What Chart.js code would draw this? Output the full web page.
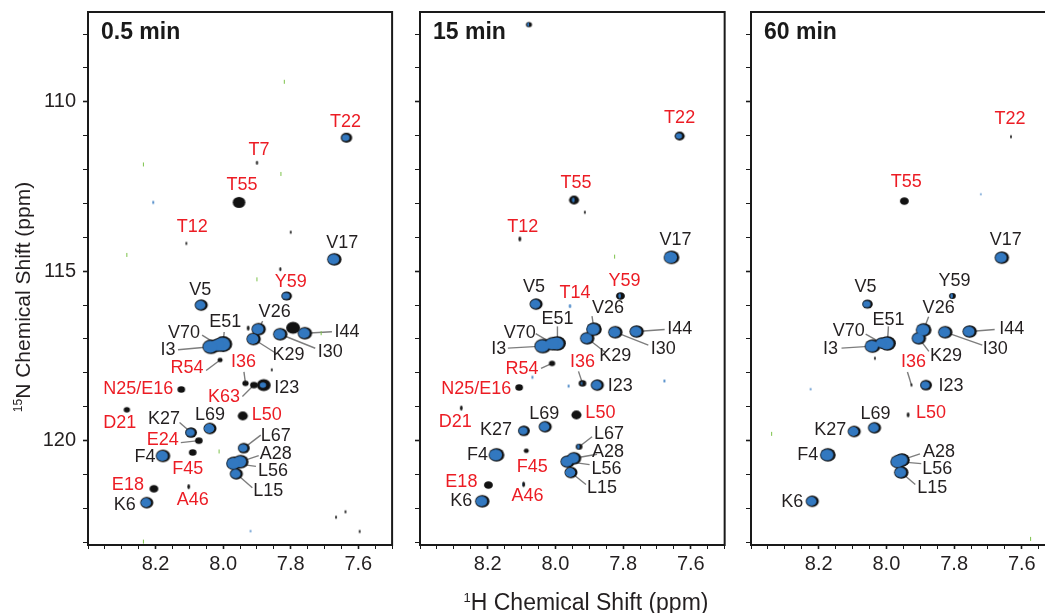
<!DOCTYPE html>
<html>
<head>
<meta charset="utf-8">
<script src="https://cdn.jsdelivr.net/npm/chart.js@4.4.1/dist/chart.umd.min.js"></script>
<style>
  html, body { margin: 0; padding: 0; background: #fff; width: 1045px; height: 613px; overflow: hidden; position: relative; }
  canvas { position: absolute; top: 0; }
</style>
</head>
<body>
<canvas id="p1" width="400" height="613" style="left:0px"></canvas>
<canvas id="p2" width="400" height="613" style="left:332px"></canvas>
<canvas id="p3" width="400" height="613" style="left:663px"></canvas>
<script>
// ---- data (1H / 15N shifts in ppm, peak intensities in arbitrary units) ----
const panelTitles = ['0.5 min', '15 min', '60 min'];
const xMajor = [8.2, 8.0, 7.8, 7.6];
const yMajor = [110, 115, 120];

// 0.5 min
const min05Names = ['T22','T7','T55','T12','V17','Y59','V5','V26','E51','V70','I3','K29','I44','I30','','',
  'R54','I36','K63','I23','N25/E16','D21','L50','L69','K27','E24','F4','F45','L67','A28','L56','L15','E18','K6','A46',
  '','','','','','','',''];
const min05H = [7.635,7.900,7.953,8.109,7.671,7.812,8.065,7.895,8.000,8.015,8.036,7.910,7.758,7.831,7.793,7.926,
  8.009,7.934,7.909,7.880,8.124,8.285,7.942,8.039,8.095,8.072,8.178,8.090,7.939,7.948,7.968,7.961,8.205,8.226,8.102,
  7.800,7.831,7.856,7.666,7.638,7.596,8.207,7.919];
const min05N = [111.06,111.80,112.97,114.18,114.65,115.73,116.00,116.71,117.15,117.18,117.23,117.00,116.83,116.86,116.67,116.68,
  117.62,118.31,118.36,118.36,118.49,119.09,119.27,119.64,119.76,120.00,120.45,120.35,120.22,120.62,120.67,120.98,121.42,121.83,121.36,
  113.85,114.94,117.91,122.26,122.10,122.68,112.97,122.67];
const min05Black = [4.5,1.2,5,1,5,4,4,5,6,5,5.5,5,4,4,5.5,1.5,
  2,2.5,3,5.5,3,2.5,4,4,4.5,3,4.5,3,4,5,5,4.5,3.5,4.5,1.5,
  1,1.2,1,1,1,1,0,0];
const min05Blue = [3,0,0,0,4.5,3,4,4.5,6,5,5.5,4.5,4.5,4.5,0,0,
  0,0,0,2.5,0,0,0,4,3.5,0,4.5,0,3.5,5,5,4,0,4,0,
  0,0,0,0,0,0,1,0.8];
const min05GreenH = [8.236,7.819,7.829,7.900,8.285,8.012,7.710,8.236];
const min05GreenN = [111.85,109.41,112.13,115.24,114.52,120.32,116.83,122.98];

// 15 min
const min15Names = ['','T22','T55','','T12','V17','V5','T14','Y59','V26','E51','V70','I3','K29','I44','I30',
  'R54','I36','I23','N25/E16','D21','L50','L69','K27','F4','F45','L67','A28','L56','L15','E18','K6','A46','','',''];
const min15H = [8.078,7.633,7.945,7.913,8.105,7.657,8.057,7.957,7.808,7.886,7.994,8.008,8.037,7.906,7.760,7.823,
  8.010,7.920,7.876,8.107,8.278,7.938,8.030,8.093,8.174,8.086,7.930,7.945,7.964,7.954,8.198,8.216,8.094,8.068,7.961,7.678];
const min15N = [107.72,111.01,112.90,113.26,114.05,114.59,115.97,116.03,115.73,116.71,117.13,117.14,117.21,116.98,116.78,116.80,
  117.72,118.31,118.36,118.43,119.04,119.24,119.59,119.71,120.42,120.30,120.18,120.52,120.62,120.94,121.31,121.79,121.29,118.13,118.39,118.24];
const min15Black = [1.5,4,4,1,1.5,5,4,0,3.5,5,5.5,5,5.5,5,4.5,5,
  2.5,3,5,3,1.5,4,4,4,5,2,1.5,5,4.5,4.5,3.5,4.5,1.5,0,0,0];
const min15Blue = [1.2,2.5,1.5,0,0,5,4,1.2,1.5,5,5.5,5,5.5,4.5,4.5,4.5,
  0,1,4,0,0,0,4,3.5,5,0,1.5,4.5,4.5,4,0,4.5,0.5,1,1,1];
const min15GreenH = [7.825];
const min15GreenN = [114.57];

// 60 min
const min60Names = ['T22','T55','','V17','V5','Y59','V26','E51','V70','I3','K29','I44','I30','I36','I23','L50',
  'L69','K27','F4','A28','L56','L15','K6','',''];
const min60H = [7.632,7.947,7.721,7.659,8.056,7.805,7.890,7.997,8.014,8.041,7.904,7.754,7.826,7.926,7.883,7.936,
  8.035,8.095,8.173,7.954,7.965,7.956,8.219,8.034,8.224];
const min60N = [111.03,112.93,112.73,114.60,115.97,115.73,116.73,117.13,117.12,117.21,116.98,116.78,116.80,118.36,118.36,119.24,
  119.62,119.73,120.42,120.57,120.62,120.94,121.79,117.57,118.48];
const min60Black = [1,3.5,0,4.5,3,2.5,5,5.5,4,5,4.5,4.5,4,1,4.5,1.5,
  3.5,4,5,5.5,5,4.5,4,1,0];
const min60Blue = [0,0,0.7,4.5,3,1.5,5,5.5,4,5,4.5,4.5,4.5,0,3.5,0,
  4,4,5,5,5,4.5,4,0,0.8];
const min60GreenH = [8.339,7.574];
const min60GreenN = [119.80,122.90];

// residues whose labels are red (lost signal)
const min05Red = ['T22','T7','T55','T12','Y59','R54','I36','K63','N25/E16','D21','L50','E24','F45','E18','A46'];
const min15Red = ['T22','T55','T12','T14','Y59','R54','I36','N25/E16','D21','L50','F45','E18','A46'];
const min60Red = ['T22','T55','I36','L50'];

// ---- label layout: [dx, dy] of label centre from its peak (px), optional leader start [lx, ly] ----
const min05Layout = {
  T22:[-1,-16], T7:[2,-13], T55:[3,-17], T12:[6,-16], V17:[8,-16], Y59:[4,-14], V5:[-1,-15],
  V26:[16,-17,4,-8], E51:[2,-22,1,-12], V70:[-34,-12,-16,-10], I3:[-43,3,-33,3], K29:[35,16,22,14],
  I44:[42,-1,27,-1.5], I30:[50,18,35,14], R54:[-33,8,-14,10.5], I36:[-2,-21,-1.5,-11.5], K63:[-30,12,-11.5,11.5],
  I23:[23,3], 'N25/E16':[-43,0], D21:[-7,13], L50:[24,-1], L69:[0,-13], K27:[-27,-13,-11.5,-10],
  E24:[-36,-1,-18,2], F4:[-18,1], F45:[-5,17], L67:[32,-12,17,-13], A28:[35,-8,18,-6], L56:[39,8,22,3],
  L15:[32,17,16,14], E18:[-26,-4], K6:[-22,2], A46:[4,13]
};
const min15Layout = {
  T22:[0,-18], T55:[2,-17], T12:[3,-12], V17:[4,-17], V5:[-2,-17], T14:[5,-13], Y59:[4,-15],
  V26:[14,-21,-2,-13], E51:[0,-24,0,-17], V70:[-33,-11,-17,-10], I3:[-44,3,-35,2], K29:[28,18,18,14],
  I44:[43,-2,28,-2], I30:[48,17,33,13], R54:[-30,6,-11,5], I36:[0,-21,-4,-12], I23:[23,1],
  'N25/E16':[-43,2], D21:[-6,14], L50:[24,-2], L69:[-1,-13], K27:[-28,-1], F4:[-19,0], F45:[6,16],
  L67:[30,-13,13,-10], A28:[34,-6,23,-4], L56:[39,7,22,3], L15:[31,16,15,12], E18:[-27,-3], K6:[-21,0], A46:[4,12]
};
const min60Layout = {
  T22:[-1,-18], T55:[2,-19], V17:[4,-18], V5:[-2,-17], Y59:[2,-15],
  V26:[15,-22,5,-13], E51:[1,-23,1,-17], V70:[-33,-12,-16,-9], I3:[-42,3,-31,2], K29:[27,18,10,13],
  I44:[42,-2,25,-2], I30:[50,17,37,13], I36:[2,-23,-4,-13], I23:[25,1], L50:[23,-2], L69:[1,-14],
  K27:[-24,-1], F4:[-20,0], A28:[37,-8,18,-6], L56:[39,7,23,2], L15:[31,16,14,12], K6:[-20,1]
};

// ---- styles ----
const FONT = "'Liberation Sans', Arial, Helvetica, sans-serif";
const INK = '#231f20';
const RED = '#ec1c24';
const BLUE = '#3278c0';
const PEAK = '#121212';
const GREEN = '#7cc24a';
const LEAD = '#7d7d7d';

const xTicks = [];
for (let v = 750; v <= 840; v += 5) xTicks.push(v / 100);
const yTicks = [];
for (let v = 108; v <= 123; v++) yTicks.push(v);

const near = (list, v) => list.some(m => Math.abs(m - v) < 1e-6);

// contour blob drawn as a small ellipse image used as point style
const blobCache = {};
function blob(r, color, dx) {
  const key = r.toFixed(2) + color + dx;
  if (blobCache[key]) return blobCache[key];
  const small = r < 2;
  const rx = small ? r * 0.8 : r * 1.15;
  const ry = small ? r * 1.5 : r;
  const w = Math.ceil(2 * (rx + Math.abs(dx)) + 2);
  const h = Math.ceil(2 * ry + 2);
  const cv = document.createElement('canvas');
  cv.width = w; cv.height = h;
  const g = cv.getContext('2d');
  g.fillStyle = color;
  g.beginPath();
  g.ellipse(w / 2 + dx, h / 2, rx, ry, 0, 0, 2 * Math.PI);
  g.fill();
  blobCache[key] = cv;
  return cv;
}

function drawSupText(ctx, sup, main, cx, cy, size) {
  const supSize = Math.round(size * 0.58);
  ctx.font = `${supSize}px ${FONT}`;
  const w1 = ctx.measureText(sup).width;
  ctx.font = `${size}px ${FONT}`;
  const w2 = ctx.measureText(main).width;
  const start = cx - (w1 + w2) / 2;
  ctx.textAlign = 'left';
  ctx.textBaseline = 'alphabetic';
  ctx.fillText(main, start + w1, cy + size * 0.36);
  ctx.font = `${supSize}px ${FONT}`;
  ctx.fillText(sup, start, cy + size * 0.36 - size * 0.38);
}

const panelDecor = {
  id: 'panelDecor',
  beforeDatasetsDraw(chart, args, o) {
    const { ctx, scales: { x, y } } = chart;
    ctx.save();
    ctx.strokeStyle = LEAD;
    ctx.lineWidth = 1.4;
    o.names.forEach((n, i) => {
      const L = o.layout[n];
      if (!n || !L || L.length < 4) return;
      const px = x.getPixelForValue(o.H[i]), py = y.getPixelForValue(o.N[i]);
      ctx.beginPath();
      ctx.moveTo(px + L[2], py + L[3]);
      ctx.lineTo(px, py);
      ctx.stroke();
    });
    ctx.restore();
  },
  afterDatasetsDraw(chart, args, o) {
    const { ctx, scales: { x, y } } = chart;
    ctx.save();
    ctx.font = `18px ${FONT}`;
    ctx.textAlign = 'center';
    ctx.textBaseline = 'middle';
    o.names.forEach((n, i) => {
      const L = o.layout[n];
      if (!n || !L) return;
      const px = x.getPixelForValue(o.H[i]), py = y.getPixelForValue(o.N[i]);
      ctx.fillStyle = o.red.includes(n) ? RED : INK;
      ctx.fillText(n, px + L[0], py + L[1]);
    });
    ctx.restore();
  },
  afterDraw(chart, args, o) {
    const { ctx, chartArea: a } = chart;
    ctx.save();
    ctx.strokeStyle = '#1a1a1a';
    ctx.lineWidth = 2;
    ctx.strokeRect(a.left, a.top, a.right - a.left, a.bottom - a.top);
    ctx.fillStyle = '#1a1a1a';
    ctx.font = `bold 23px ${FONT}`;
    ctx.textAlign = 'left';
    ctx.textBaseline = 'middle';
    ctx.fillText(o.title, a.left + 13, a.top + 21);
    ctx.fillStyle = INK;
    if (o.yTitle) {
      ctx.save();
      ctx.translate(22, 297);
      ctx.rotate(-Math.PI / 2);
      drawSupText(ctx, '15', 'N Chemical Shift (ppm)', 0, 0, 21);
      ctx.restore();
    }
    if (o.xTitle) {
      drawSupText(ctx, '1', 'H Chemical Shift (ppm)', 254, 602, 23);
    }
    ctx.restore();
  }
};

function makePanel(id, title, names, H, N, black, blue, gH, gN, layout, red, showY, extra) {
  const blackPts = [], blackImg = [], blackR = [], bluePts = [], blueImg = [], blueR = [];
  names.forEach((n, i) => {
    if (black[i] > 0) {
      const r = blue[i] > 0 ? Math.max(black[i] * 1.1, blue[i] * 1.1 + 1.3) : black[i] * 1.1;
      blackPts.push({ x: H[i], y: N[i] });
      blackImg.push(blob(r, PEAK, 0));
      blackR.push(r);
    }
    if (blue[i] > 0) {
      const r = blue[i] * 1.1;
      bluePts.push({ x: H[i], y: N[i] });
      blueImg.push(blob(r, BLUE, black[i] > 0 ? -0.8 : 0));
      blueR.push(r);
    }
  });
  const greenPts = gH.map((h, i) => ({ x: h, y: gN[i] }));

  new Chart(document.getElementById(id), {
    type: 'scatter',
    data: {
      datasets: [
        { label: 'blue', data: bluePts, order: 0, borderWidth: 0,
          pointStyle: c => blueImg[c.dataIndex], pointRadius: c => blueR[c.dataIndex] },
        { label: 'black', data: blackPts, order: 1, borderWidth: 0,
          pointStyle: c => blackImg[c.dataIndex], pointRadius: c => blackR[c.dataIndex] },
        { label: 'noise', data: greenPts, order: 2, pointStyle: 'line', rotation: 90, pointRadius: 2,
          borderColor: GREEN, borderWidth: 1 }
      ]
    },
    options: {
      responsive: false,
      animation: false,
      events: [],
      layout: { padding: { top: 12, right: 5, left: 0, bottom: 0 } },
      plugins: {
        legend: { display: false },
        tooltip: { enabled: false },
        panelDecor: Object.assign({ title, names, H, N, layout, red }, extra)
      },
      scales: {
        x: {
          type: 'linear', reverse: true, min: 7.5, max: 8.4,
          afterBuildTicks: s => { s.ticks = xTicks.map(v => ({ value: v })); },
          afterFit: s => { s.height = 68; },
          border: { display: false },
          grid: { drawOnChartArea: false, tickLength: 4, tickColor: '#1a1a1a',
                  tickWidth: c => near(xMajor, c.tick.value) ? 1.6 : 1 },
          ticks: { autoSkip: false, maxRotation: 0, padding: 5, color: INK,
                   font: { family: FONT, size: 20, lineHeight: 1 },
                   callback: v => near(xMajor, v) ? v.toFixed(1) : '' }
        },
        y: {
          type: 'linear', reverse: true, min: 107.35, max: 123.08,
          afterBuildTicks: s => { s.ticks = yTicks.map(v => ({ value: v })); },
          afterFit: s => { s.width = 88; },
          border: { display: false },
          grid: { drawOnChartArea: false, tickLength: 5, tickColor: '#1a1a1a',
                  tickWidth: c => near(yMajor, c.tick.value) ? 1.6 : 1 },
          ticks: { autoSkip: false, padding: 7, color: INK,
                   font: { family: FONT, size: 20, lineHeight: 0.1 },
                   callback: v => (showY && near(yMajor, v)) ? String(v) : '' }
        }
      }
    },
    plugins: [panelDecor]
  });
}

makePanel('p1', panelTitles[0], min05Names, min05H, min05N, min05Black, min05Blue, min05GreenH, min05GreenN,
  min05Layout, min05Red, true, { yTitle: true });
makePanel('p2', panelTitles[1], min15Names, min15H, min15N, min15Black, min15Blue, min15GreenH, min15GreenN,
  min15Layout, min15Red, false, { xTitle: true });
makePanel('p3', panelTitles[2], min60Names, min60H, min60N, min60Black, min60Blue, min60GreenH, min60GreenN,
  min60Layout, min60Red, false, {});
</script>
</body>
</html>
